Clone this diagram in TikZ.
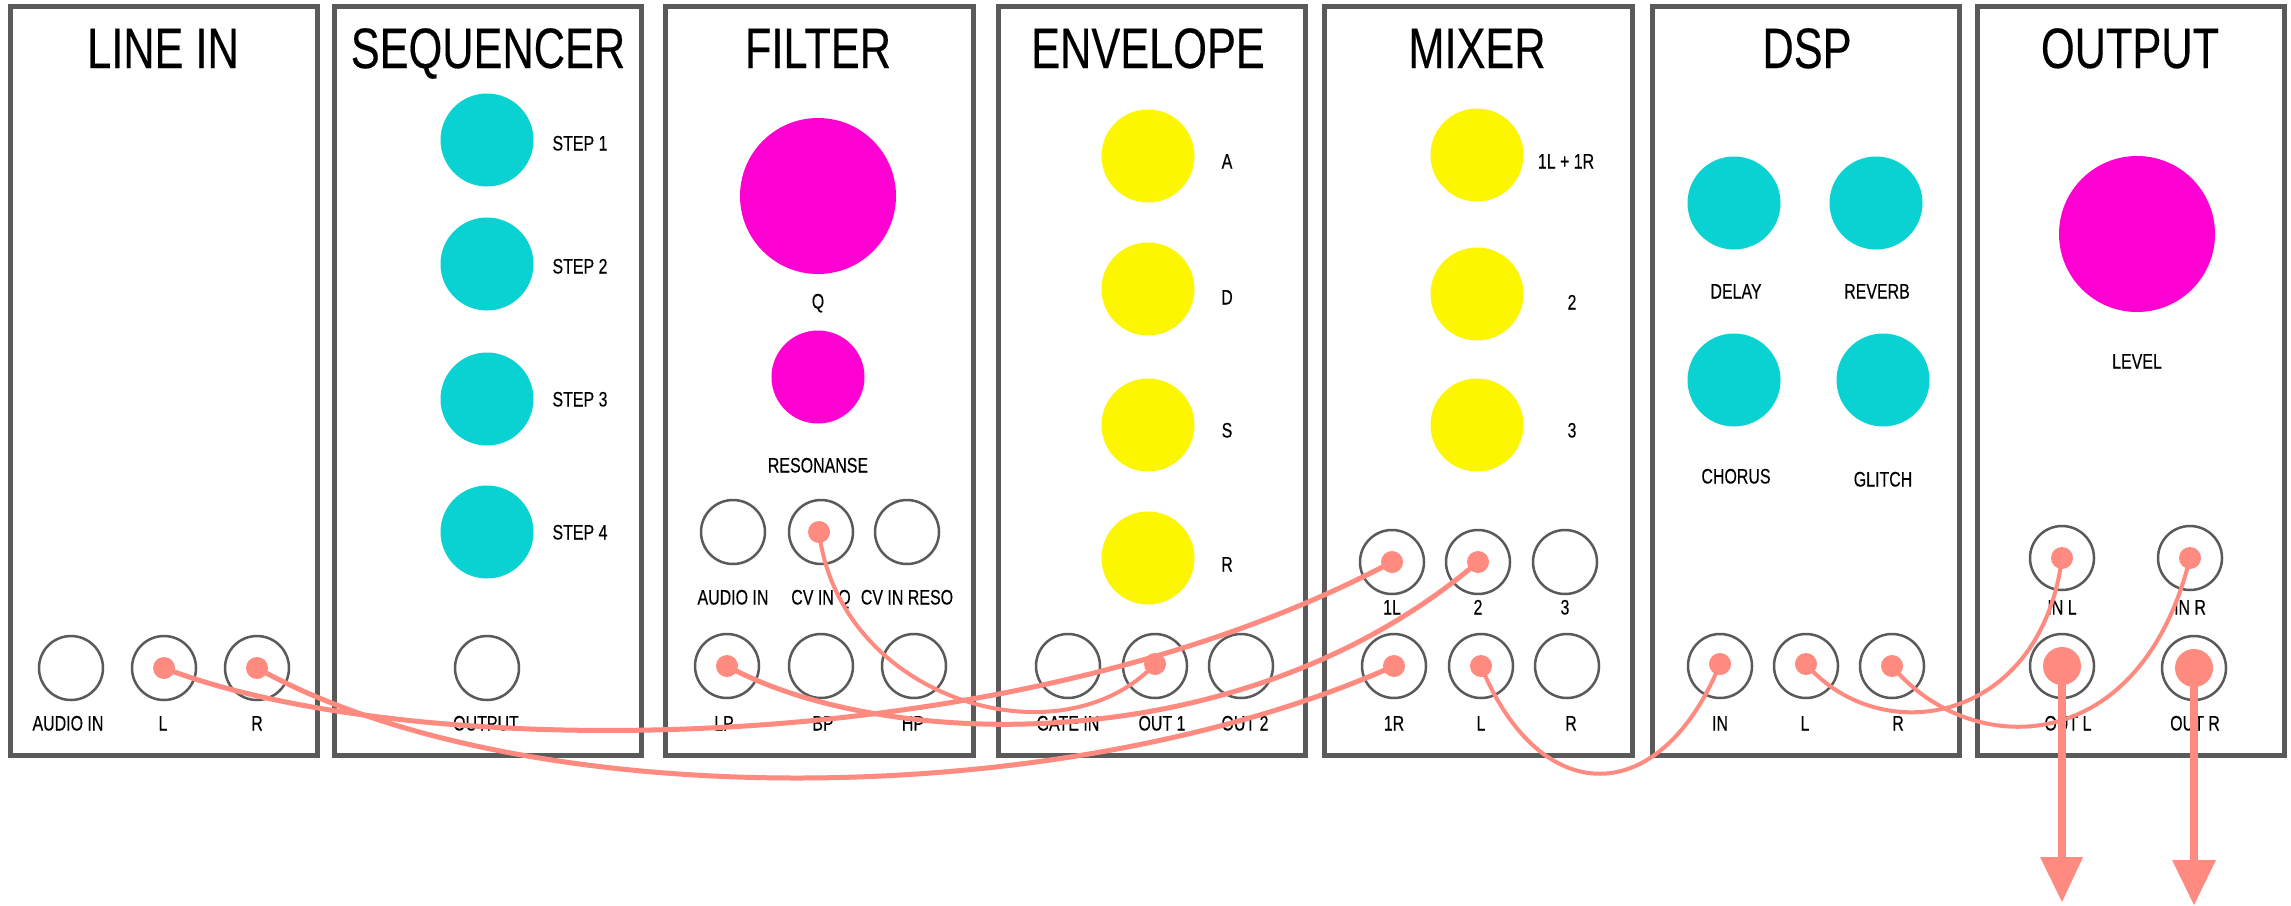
\documentclass[tikz,border=0pt]{standalone}
\usepackage{fontspec}
\setmainfont[FakeStretch=0.76,FakeBold=0.25]{Liberation Sans}
\definecolor{teal1}{HTML}{0AD2D2}
\definecolor{mag1}{HTML}{FF00D2}
\definecolor{yel1}{HTML}{FCF600}
\definecolor{cab}{HTML}{FF8A80}
\definecolor{bord}{HTML}{5A5A5A}
\tikzset{
 x=1pt,y=-1pt,
 panel/.style={draw=bord,line width=5pt,fill=white,anchor=north west,inner sep=0pt,outer sep=0pt},
 ttl/.style={font=\fontsize{57}{57}\selectfont,text=black,inner sep=0pt,anchor=base},
 lab/.style={font=\fontsize{21}{21}\selectfont,text=black,inner sep=0pt,text height=15pt,text depth=0pt},
 knobT/.style={circle,fill=teal1,minimum size=93pt,inner sep=0pt},
 knobY/.style={circle,fill=yel1,minimum size=93pt,inner sep=0pt},
 knobM/.style={circle,fill=mag1,minimum size=93pt,inner sep=0pt},
 knobB/.style={circle,fill=mag1,minimum size=156pt,inner sep=0pt},
 jack/.style={circle,draw=bord,line width=2.5pt,fill=none,minimum size=64pt,inner sep=0pt},
 dot/.style={circle,fill=cab,minimum size=22pt,inner sep=0pt},
 bigdot/.style={circle,fill=cab,minimum size=38pt,inner sep=0pt},
 cable/.style={draw=cab,line width=5pt},
 thincable/.style={draw=cab,line width=4pt},
 outcable/.style={draw=cab,line width=8pt},
 head/.style={fill=cab,draw=none},
}
\newcommand{\panelbox}[5]{\node[panel,minimum width=#3-#2,minimum height=749pt] (#1) at (#2,6) {};\node[ttl] (#1t) at (#4,68) {#5};}
\begin{document}
\begin{tikzpicture}
\useasboundingbox (0,0) rectangle (2291,905);
\fill[white] (0,0) rectangle (2291,905);
% panels
\panelbox{pa}{10}{317}{163}{LINE IN}
\panelbox{pb}{334}{641}{488}{SEQUENCER}
\panelbox{pc}{665}{973}{818}{FILTER}
\panelbox{pd}{998}{1305}{1148}{ENVELOPE}
\panelbox{pe}{1324}{1632}{1477}{MIXER}
\panelbox{pf}{1652}{1959}{1807}{DSP}
\panelbox{pg}{1977}{2284}{2130}{OUTPUT}
% knobs
\node[knobT] (s1) at (487,140) {};
\node[knobT] (s2) at (487,264) {};
\node[knobT] (s3) at (487,399) {};
\node[knobT] (s4) at (487,532) {};
\node[lab] (ls1) at (580,143) {STEP 1};
\node[lab] (ls2) at (580,266) {STEP 2};
\node[lab] (ls3) at (580,399) {STEP 3};
\node[lab] (ls4) at (580,532) {STEP 4};
\node[knobB] (fq) at (818,196) {};
\node[knobM] (fr) at (818,377) {};
\node[lab] (lfq) at (818,301) {Q};
\node[lab] (lfr) at (818,465) {RESONANSE};
\node[knobY] (ea) at (1148,156) {};
\node[knobY] (ed) at (1148,289) {};
\node[knobY] (es) at (1148,425) {};
\node[knobY] (er) at (1148,558) {};
\node[lab] (lea) at (1227,161) {A};
\node[lab] (led) at (1227,297) {D};
\node[lab] (les) at (1227,430) {S};
\node[lab] (ler) at (1227,564) {R};
\node[knobY] (m1) at (1477,155) {};
\node[knobY] (m2) at (1477,294) {};
\node[knobY] (m3) at (1477,425) {};
\node[lab] (lm1) at (1566,161) {1L + 1R};
\node[lab] (lm2) at (1572,302) {2};
\node[lab] (lm3) at (1572,430) {3};
\node[knobT] (d1) at (1734,203) {};
\node[knobT] (d2) at (1876,203) {};
\node[knobT] (d3) at (1734,380) {};
\node[knobT] (d4) at (1883,380) {};
\node[lab] (ld1) at (1736,291) {DELAY};
\node[lab] (ld2) at (1877,291) {REVERB};
\node[lab] (ld3) at (1736,476) {CHORUS};
\node[lab] (ld4) at (1883,479) {GLITCH};
\node[knobB] (ol) at (2137,234) {};
\node[lab] (lol) at (2137,361) {LEVEL};
% jacks
\node[jack] (ja) at (71,668) {};
\node[jack] (jl) at (164,668) {};
\node[jack] (jr) at (257,668) {};
\node[jack] (so) at (487,668) {};
\node[jack] (fa) at (733,532) {};
\node[jack] (fc) at (821,532) {};
\node[jack] (fd) at (907,532) {};
\node[jack] (flp) at (727,666) {};
\node[jack] (fbp) at (821,666) {};
\node[jack] (fhp) at (914,666) {};
\node[jack] (eg) at (1068,666) {};
\node[jack] (eo) at (1155,666) {};
\node[jack] (ep) at (1241,666) {};
\node[jack] (mi1) at (1392,562) {};
\node[jack] (mi2) at (1478,562) {};
\node[jack] (mi3) at (1565,562) {};
\node[jack] (mr1) at (1394,666) {};
\node[jack] (mol) at (1481,666) {};
\node[jack] (mor) at (1567,666) {};
\node[jack] (di) at (1720,666) {};
\node[jack] (dl) at (1806,666) {};
\node[jack] (dr) at (1892,666) {};
\node[jack] (oil) at (2062,558) {};
\node[jack] (oir) at (2190,558) {};
\node[jack] (ool) at (2062,666) {};
\node[jack] (oor) at (2194,668) {};
% jack labels
\node[lab] (lja) at (68,723) {AUDIO IN};
\node[lab] (ljl) at (163,723) {L};
\node[lab] (ljr) at (257,723) {R};
\node[lab] (lso) at (486,723) {OUTPUT};
\node[lab] (lfa) at (733,597) {AUDIO IN};
\node[lab] (lfc) at (821,597) {CV IN Q};
\node[lab] (lfd) at (907,597) {CV IN RESO};
\node[lab] (lflp) at (724,723) {LP};
\node[lab] (lfbp) at (823,723) {BP};
\node[lab] (lfhp) at (913,723) {HP};
\node[lab] (leg) at (1068,723) {GATE IN};
\node[lab] (leo) at (1162,723) {OUT 1};
\node[lab] (lep) at (1245,723) {OUT 2};
\node[lab] (lmi1) at (1392,607) {1L};
\node[lab] (lmi2) at (1478,607) {2};
\node[lab] (lmi3) at (1565,607) {3};
\node[lab] (lmr1) at (1394,723) {1R};
\node[lab] (lmol) at (1481,723) {L};
\node[lab] (lmor) at (1571,723) {R};
\node[lab] (ldi) at (1720,723) {IN};
\node[lab] (ldl) at (1805,723) {L};
\node[lab] (ldr) at (1898,723) {R};
\node[lab] (loil) at (2062,607) {IN L};
\node[lab] (loir) at (2190,607) {IN R};
\node[lab] (lool) at (2068,723) {OUT L};
\node[lab] (loor) at (2195,723) {OUT R};
% plug dots
\node[dot] (pl) at (164,668) {};
\node[dot] (pr) at (257,668) {};
\node[dot] (pcv) at (819,532) {};
\node[dot] (plp) at (727,666) {};
\node[dot] (po) at (1155,664) {};
\node[dot] (pi1) at (1392,562) {};
\node[dot] (pi2) at (1478,562) {};
\node[dot] (pr1) at (1394,666) {};
\node[dot] (pml) at (1481,666) {};
\node[dot] (pdi) at (1720,664) {};
\node[dot] (pdl) at (1806,664) {};
\node[dot] (pdr) at (1892,666) {};
\node[dot] (pil) at (2062,558) {};
\node[dot] (pir) at (2190,558) {};
\node[bigdot] (pol) at (2062,666) {};
\node[bigdot] (por) at (2194,668) {};
% cables
\draw[cable] (pl.center) .. controls (400,760) and (1000,770) .. (pi1.center);
\draw[cable] (pr.center) .. controls (520,815) and (1060,815) .. (pr1.center);
\draw[cable] (plp.center) .. controls (880,750) and (1240,765) .. (pi2.center);
\draw[thincable] (pcv.center) .. controls (840,700) and (1060,765) .. (po.center);
\draw[thincable] (pml.center) .. controls (1540,810) and (1660,810) .. (pdi.center);
\draw[thincable] (pdl.center) .. controls (1880,750) and (2040,725) .. (pil.center);
\draw[thincable] (pdr.center) .. controls (1970,760) and (2140,760) .. (pir.center);
% outputs
\coordinate (el) at (2062,860);
\coordinate (er2) at (2194,862);
\coordinate (tl) at (2062,902);
\coordinate (tr) at (2194,905);
\draw[outcable] (pol.center) -- (el);
\draw[outcable] (por.center) -- (er2);
\fill[head] (2040,857) -- (2083,857) -- (tl) -- cycle;
\fill[head] (2172,860) -- (2216,860) -- (tr) -- cycle;
\end{tikzpicture}
\end{document}
